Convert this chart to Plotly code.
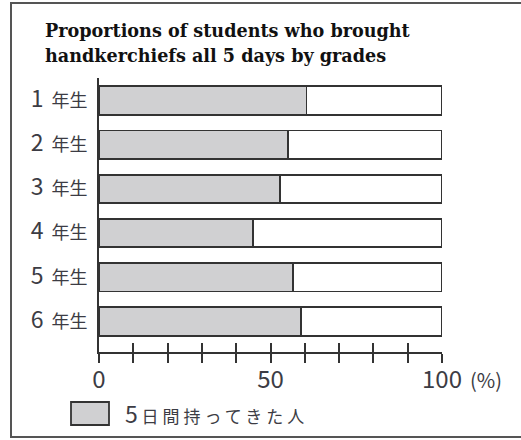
import plotly.graph_objects as go

grades = ["1", "2", "3", "4", "5", "6"]
grade_suffix = "年生"
brought_all_5 = [60.5, 55.2, 52.7, 45.0, 56.5, 59.0]
x_tick_values = [0, 10, 20, 30, 40, 50, 60, 70, 80, 90, 100]
x_tick_labels = {0: "0", 50: "50", 100: "100"}
legend_label_num = "5"
legend_label_rest = "日間持ってきた人"
title_lines = ["Proportions of students who brought", "handkerchiefs all 5 days by grades"]
unit_label = "(%)"

rest = [100 - v for v in brought_all_5]
ypos = list(range(len(grades)))
ytext = [f"<span style='font-size:23px'>{g}</span>  {grade_suffix}" for g in grades]

W, H = 521, 440
L, R, T, B = 99, 442, 78, 352
pw, ph = R - L, B - T


def px(x):
    return (x - L) / pw


def py(y):
    return (B - y) / ph


INK = "#333333"
TXT = "#3c3c44"
GRAY = "#d0d0d2"
FONT = "Noto Sans CJK JP"

fig = go.Figure()
fig.add_trace(go.Bar(
    y=ypos, x=brought_all_5, orientation="h", width=0.645,
    marker=dict(color=GRAY, line=dict(color=INK, width=1.8)),
    showlegend=False, hoverinfo="skip"))
fig.add_trace(go.Bar(
    y=ypos, x=rest, orientation="h", width=0.645,
    marker=dict(color="white", line=dict(color=INK, width=1.8)),
    showlegend=False, hoverinfo="skip"))
# invisible trace for the overlay axis (ticks crossing the axis line)
fig.add_trace(go.Scatter(x=[0, 100], y=[0, 0], xaxis="x2", yaxis="y",
                         mode="markers", marker=dict(opacity=0),
                         showlegend=False, hoverinfo="skip"))

fig.update_layout(
    width=W, height=H,
    margin=dict(l=L, r=W - R, t=T, b=H - B),
    barmode="stack",
    plot_bgcolor="white", paper_bgcolor="white",
    font=dict(family=FONT, color=INK, size=18),
    xaxis=dict(range=[0, 100], showgrid=False, zeroline=False,
               showline=True, linecolor=INK, linewidth=1.8,
               ticks="outside", ticklen=9, tickwidth=1.8, tickcolor=INK,
               tickvals=x_tick_values,
               ticktext=[x_tick_labels.get(v, "") for v in x_tick_values],
               ticklabelstandoff=-4,
               tickfont=dict(size=24, color=TXT, family=FONT)),
    xaxis2=dict(range=[0, 100], overlaying="x", anchor="y", side="bottom",
                showgrid=False, zeroline=False, showline=False,
                ticks="inside", ticklen=9, tickwidth=1.8, tickcolor=INK,
                tickvals=x_tick_values, showticklabels=False),
    yaxis=dict(range=[5.69, -0.51], showgrid=False, zeroline=False,
               showline=True, linecolor=INK, linewidth=1.8,
               tickvals=ypos, ticktext=ytext, ticks="",
               ticklabelstandoff=6,
               tickfont=dict(size=18, color=TXT, family=FONT)),
    shapes=[
        dict(type="rect", xref="paper", yref="paper",
             x0=px(11), x1=px(530), y0=py(437), y1=py(3),
             line=dict(color="#555555", width=2), fillcolor="rgba(0,0,0,0)",
             layer="below"),
        dict(type="rect", xref="paper", yref="paper",
             x0=px(71), x1=px(109), y0=py(425), y1=py(402),
             line=dict(color=INK, width=1.8), fillcolor=GRAY),
    ],
    annotations=[
        dict(xref="paper", yref="paper", x=px(43), y=py(30), xanchor="left",
             yanchor="middle", showarrow=False, text=f"<b>{title_lines[0]}</b>",
             font=dict(family="DejaVu Serif", size=17.6, color="#111111")),
        dict(xref="paper", yref="paper", x=px(43), y=py(55), xanchor="left",
             yanchor="middle", showarrow=False, text=f"<b>{title_lines[1]}</b>",
             font=dict(family="DejaVu Serif", size=17.6, color="#111111")),
        dict(xref="paper", yref="paper", x=px(468), y=py(379), xanchor="left",
             yanchor="middle", showarrow=False, text=unit_label,
             font=dict(family=FONT, size=20, color=TXT)),
        dict(xref="paper", yref="paper", x=px(123), y=py(413), xanchor="left",
             yanchor="middle", showarrow=False,
             text=(f"<span style='font-size:23px'>{legend_label_num}</span> "
                   f"<span style='letter-spacing:4px'>{legend_label_rest}</span>"),
             font=dict(family=FONT, size=17, color=TXT)),
    ],
)

fig.write_html("out.html")
